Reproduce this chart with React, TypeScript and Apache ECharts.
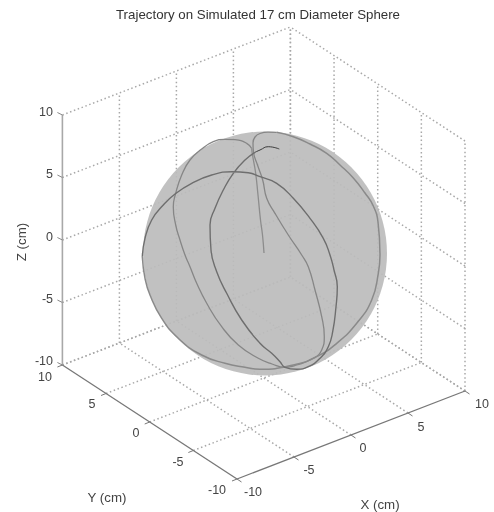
import React, { useEffect, useRef } from "react";
import * as echarts from "echarts";

const TITLE = "Trajectory on Simulated 17 cm Diameter Sphere";
const gridTicks = [-10, -5, 0, 5, 10];
const zTickLabels = ["-10", "-5", "0", "5", "10"];
const sphereCentre = [265, 253.5];

// Trajectory, in view-plane units (1 unit = 1 page pixel).
const trajectoryStem = [
  [264, 253], [262.5, 235], [260.5, 220], [258, 195], [255.5, 172], [252.5, 155], [251.7, 148.5],
];
const trajectoryBack = [
  [251.7, 148.5], [246.7, 143.3], [235, 139.7], [225, 139.3], [213.3, 141.7], [201.7, 149], [190, 160],
  [181.7, 175], [175.7, 193.3], [173.3, 206.7], [175.7, 225], [180, 240], [185, 255], [190, 266.7],
  [196.7, 283.3], [206.7, 303.3], [221.7, 326.7], [238.3, 345], [258.3, 358.3], [272, 364], [285, 367.3],
  [296.7, 365], [313.3, 358.3], [321.7, 350], [324.3, 336.7], [321.7, 316.7], [315, 290], [308.3, 266.7],
  [301.7, 255], [288.3, 235], [275, 213.3], [266.7, 198.3], [262.7, 180], [257.5, 165], [253.5, 152],
  [253, 143], [255, 137], [260, 133.5], [268, 132.2], [276.7, 132.3],
];
const trajectoryEdge = [
  [276.7, 132.3], [293.3, 136.7], [310, 144], [326.7, 153.3], [340, 165], [353.3, 178], [365, 193], [373.3, 206],
  [378, 222], [380, 255], [378.3, 273.3], [371.7, 300], [356.7, 323.3], [336.7, 343.3], [316.7, 356.7], [293.3, 365],
  [260, 369.3], [245, 367.3], [225, 363.3], [201.7, 355], [178.3, 338.3], [161.7, 318.3], [150, 295],
  [145, 278.3], [142.3, 256.7],
];
const trajectoryFront = [
  [142.3, 256.7], [145, 238.3], [151.7, 220], [163.3, 205], [175, 194], [191.7, 183.3], [211.7, 175],
  [231.7, 171.7], [248.3, 172.7], [260, 176.7], [276.7, 183.3], [293.3, 198.3], [310, 218.3], [323.3, 238.3],
  [330, 255], [334, 270], [337.3, 286.7], [336, 306.7], [332.7, 331.7], [328.3, 346.7], [320, 358.3],
  [308.3, 366.7], [296.7, 369.3], [285, 367.3], [280, 361.7], [271.7, 353.3], [260, 343.3], [241.7, 320],
  [226.7, 293.3], [216.7, 271.7], [211, 250], [210, 225], [215, 208.3], [223.3, 190], [233.3, 173.3],
  [245, 160], [255, 152.3],
];
const trajectoryTail = [[255, 152.3], [260, 150], [268.3, 146.7], [279.3, 149]];

const CENTRE = [263.7, 253];
const UX = [11.4, -4.4];
const UY = [-8.73, -5.7];
const UZ = [0, -12.5];
const project = (x: number, y: number, z: number) => [
  CENTRE[0] + UX[0] * x + UY[0] * y + UZ[0] * z,
  CENTRE[1] + UX[1] * x + UY[1] * y + UZ[1] * z,
];

const FONT = '"Liberation Sans", Arial, sans-serif';
const GRID_COLOR = "#a8a8a8";
const GRID_WIDTH = 1.5;

const seg = (a: number[], b: number[], color: string, width: number, dotted: boolean, z = 1) => ({
  type: "line",
  data: [a, b],
  symbol: "none",
  silent: true,
  z,
  lineStyle: { color, width, type: dotted ? [1.5, 2.6] : "solid", cap: "butt" },
});

const trace = (data: number[][], color: string, width: number) => ({
  type: "line",
  data,
  symbol: "none",
  smooth: 0.5,
  silent: true,
  z: 4,
  lineStyle: { color, width },
});

const tickText = (text: string, p: number[], align = "center", size = 12.5) => ({
  type: "text",
  x: p[0],
  y: p[1],
  silent: true,
  style: { text, font: `${size}px ${FONT}`, fill: "#444", align, verticalAlign: "middle" },
});

export default function App() {
  const ref = useRef<HTMLDivElement>(null);
  useEffect(() => {
    const chart = echarts.init(ref.current!, undefined, { renderer: "svg" });
    const series: any[] = [];
    gridTicks.forEach((t) => {
      // wall y = 10
      if (t !== -10) series.push(seg(project(t, 10, -10), project(t, 10, 10), GRID_COLOR, GRID_WIDTH, true));
      series.push(seg(project(-10, 10, t), project(10, 10, t), GRID_COLOR, GRID_WIDTH, true));
      // wall x = 10
      series.push(seg(project(10, t, -10), project(10, t, 10), GRID_COLOR, GRID_WIDTH, true));
      series.push(seg(project(10, -10, t), project(10, 10, t), GRID_COLOR, GRID_WIDTH, true));
      // floor
      if (t !== -10) {
        series.push(seg(project(t, -10, -10), project(t, 10, -10), GRID_COLOR, GRID_WIDTH, true));
        series.push(seg(project(-10, t, -10), project(10, t, -10), GRID_COLOR, GRID_WIDTH, true));
      }
    });
    series.push(seg(project(-10, 10, -10), project(-10, 10, 10), "#a8a8a8", 1.6, false, 2));
    series.push(seg(project(-10, 10, -10), project(-10, -10, -10), "#777", 1.3, false, 2));
    series.push(seg(project(-10, -10, -10), project(10, -10, -10), "#777", 1.3, false, 2));
    gridTicks.forEach((t) => {
      const zp = project(-10, 10, t);
      series.push(seg(zp, [zp[0] - 5, zp[1] - 2.5], "#888", 1, false, 2));
      const yp = project(-10, t, -10);
      series.push(seg(yp, [yp[0] - 5, yp[1] + 2], "#777", 1, false, 2));
      const xp = project(t, -10, -10);
      series.push(seg(xp, [xp[0] + 4.5, xp[1] + 3], "#777", 1, false, 2));
    });
    series.push({
      type: "scatter",
      data: [sphereCentre],
      symbol: "circle",
      symbolSize: 244,
      silent: true,
      z: 3,
      itemStyle: { color: "rgb(188,188,188)", opacity: 0.92 },
    });
    series.push(trace(trajectoryStem, "#8c8c8c", 1.3));
    series.push(trace(trajectoryBack, "#868686", 1.3));
    series.push(trace(trajectoryEdge, "#8a8a8a", 1.5));
    series.push(trace(trajectoryFront, "#6e6e6e", 1.4));
    series.push(trace(trajectoryTail, "#3c3c3c", 1));

    const zPos = [[53, 361], [53, 298.5], [53, 236.5], [53, 173.5], [53, 111.5]];
    const yPos = [[217, 490], [178, 462], [136, 433], [92, 404], [45, 377]];
    const xPos = [[253, 492], [309, 470], [363, 448], [421, 427], [482, 404]];
    const graphics: any[] = [];
    zTickLabels.forEach((label, i) => {
      graphics.push(tickText(label, zPos[i], "right"));
      graphics.push(tickText(label, yPos[i]));
      graphics.push(tickText(label, xPos[i]));
    });
    graphics.push(tickText("Y (cm)", [107, 497], "center", 13.3));
    graphics.push(tickText("X (cm)", [380, 504], "center", 13.3));
    graphics.push({
      type: "text",
      x: 21.7,
      y: 242,
      rotation: Math.PI / 2,
      silent: true,
      style: { text: "Z (cm)", font: `13.3px ${FONT}`, fill: "#444", align: "center", verticalAlign: "middle" },
    });

    chart.setOption({
      animation: false,
      backgroundColor: "#ffffff",
      title: {
        text: TITLE,
        left: 253,
        top: 3,
        textAlign: "center",
        textStyle: { fontFamily: FONT, fontSize: 13.3, fontWeight: "normal", color: "#333" },
      },
      grid: { left: 0, top: 0, width: 494, height: 512 },
      xAxis: { type: "value", min: 0, max: 494, show: false },
      yAxis: { type: "value", min: 0, max: 512, inverse: true, show: false },
      series,
      graphic: graphics,
    });
    return () => chart.dispose();
  }, []);
  return <div ref={ref} style={{ position: "fixed", left: 0, top: 0, width: 494, height: 512, filter: "blur(0.45px)" }} />;
}
